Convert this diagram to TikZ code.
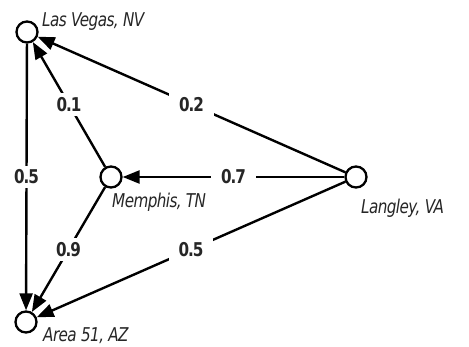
\documentclass[tikz,border=0pt]{standalone}
\usepackage{fontspec}
\setmainfont{DejaVu Sans}[FakeStretch=0.8,LetterSpace=-3]
\newfontfamily\numfont{DejaVu Sans}[FakeStretch=0.8,LetterSpace=-6]
\usetikzlibrary{arrows.meta}
\begin{document}
\begin{tikzpicture}[x=1pt,y=-1pt,
  city/.style={circle,draw=black,line width=2.3pt,fill=white,minimum size=21pt,inner sep=0pt},
  cityname/.style={anchor=base west,text=black!85,font=\fontsize{19}{21}\selectfont\itshape,inner sep=0pt},
  edge/.style={line width=2.4pt,draw=black,-{Triangle[length=17pt,width=13pt]}},
  elabel/.style={fill=white,text=black!85,font=\fontsize{19}{21}\selectfont\numfont\bfseries,inner xsep=10pt,inner ysep=4pt}]
\useasboundingbox (0,0) rectangle (469,346);
\node[city] (lv) at (27,32) {};
\node[city] (a51) at (26,322) {};
\node[city] (mem) at (111,177) {};
\node[city] (lan) at (356,177) {};
\node[cityname] (lvt) at (42,26) {Las Vegas, NV};
\node[cityname] (a51t) at (43,341) {Area 51, AZ};
\node[cityname] (memt) at (112,207) {Memphis, TN};
\node[cityname] (lant) at (361,213) {Langley, VA};
\draw[edge] (lan) -- node[elabel] (l1) {0.2} (lv);
\draw[edge] (mem) -- node[elabel] (l2) {0.1} (lv);
\draw[edge] (lv) -- node[elabel] (l3) {0.5} (a51);
\draw[edge] (mem) -- node[elabel] (l4) {0.9} (a51);
\draw[edge] (lan) -- node[elabel] (l5) {0.7} (mem);
\draw[edge] (lan) -- node[elabel] (l6) {0.5} (a51);
\end{tikzpicture}
\end{document}
